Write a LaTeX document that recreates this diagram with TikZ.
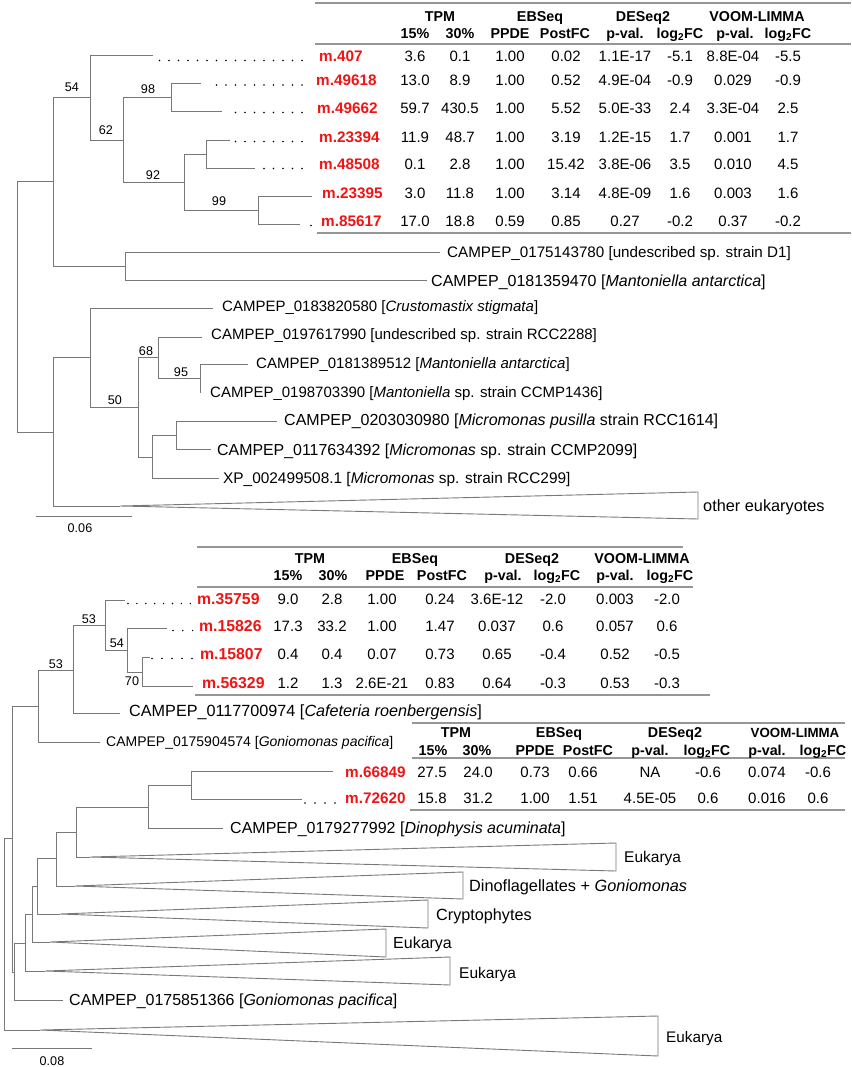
\documentclass[tikz,border=0pt]{standalone}
\usepackage{fontspec}
\setmainfont{Liberation Sans}
\definecolor{tgray}{RGB}{120,120,120}
\definecolor{lgray}{RGB}{150,150,150}
\definecolor{tred}{RGB}{240,20,20}
\newcommand\fA{\fontsize{15}{18}\selectfont}
\newcommand\fB{\fontsize{12.6}{15}\selectfont}
\newcommand\fH{\fontsize{14.3}{17}\selectfont\bfseries}
\newcommand\lgFC{log\textsubscript{2}FC}
\tikzset{
 br/.style={draw=tgray, line width=0.9pt},
 tri/.style={draw=tgray, line width=0.9pt, line join=miter},
 rule/.style={draw=lgray, line width=1.5pt},
 dotl/.style={draw=black, line width=1.6pt, line cap=round, dash pattern=on 0pt off #1},
 dotl/.default=9.5pt,
 lab/.style={anchor=west, inner sep=0pt, text height=10.9pt, text depth=0pt, font=\fontsize{#1}{18}\selectfont},
 lab/.default=15,
 boot/.style={anchor=center, inner sep=0pt, text height=9pt, text depth=0pt, font=\fB},
 gene/.style={anchor=west, inner sep=0pt, text height=11pt, text depth=0pt, font=\fontsize{#1}{18}\selectfont\bfseries, text=tred},
 gene/.default=15.3,
 val/.style={anchor=center, inner sep=0pt, text height=10.7pt, text depth=0pt, font=\fA},
 hd/.style={anchor=center, inner sep=0pt, text height=10.2pt, text depth=0pt, font=\fH},
}
\newcommand\trow[4]{\foreach \v [count=\k] in {#4}{\pgfmathsetmacro\cx{#3[\k-1]}\node[val] (#1-\k) at (\cx,#2) {\v};}}
\newcommand\hrow[4]{\foreach \v [count=\k] in {#4}{\pgfmathsetmacro\cx{#3[\k-1]}\node[hd] (#1-\k) at (\cx,#2) {\v};}}
\def\colAh{{415,460,510,565,625,680,735,788}}
\def\colA{{415,460,510,566,625,680,733,788}}
\def\colBh{{288,333,385,442,503,557,615,670}}
\def\colB{{288,332,382,440,497,553,615,667}}
\def\colCh{{433,477,535,588,650,707,767,823}}
\def\colC{{432,478,535,583,650,708,767,818}}
\begin{document}
\begin{tikzpicture}[x=1pt,y=-1pt]
\useasboundingbox[fill=white] (0,0) rectangle (851,1067);

% ================= UPPER TREE =================
\coordinate (R0) at (17,307);
\coordinate (A) at (53,181);
\coordinate (B) at (53,432);
\coordinate (A1) at (90,97);
\coordinate (A2) at (125,266);
\coordinate (lD1) at (440,252);
\coordinate (lMa) at (427,280);
\coordinate (l407) at (153,55);
\coordinate (A11) at (123,140);
\coordinate (A111) at (171,97);
\coordinate (l49618) at (201,83);
\coordinate (l49662) at (222,111);
\coordinate (A112) at (184,182);
\coordinate (A1121) at (206,154);
\coordinate (l23394) at (230,140);
\coordinate (l48508) at (255,168);
\coordinate (A1122) at (258,210);
\coordinate (l23395) at (312,196);
\coordinate (l85617) at (300,224);
\coordinate (B1) at (90,357);
\coordinate (otherA) at (120,506);
\coordinate (lCr) at (213,308);
\coordinate (B12) at (138,407);
\coordinate (B121) at (158,357);
\coordinate (lR88) at (202,337);
\coordinate (B1212) at (200,378);
\coordinate (l512) at (248,364);
\coordinate (l390) at (200,393);
\coordinate (B122) at (152,457);
\coordinate (B1221) at (176,435);
\coordinate (l980) at (277,421);
\coordinate (l392) at (211,449);
\coordinate (lXP) at (219,478);

\foreach \p/\c in {R0/A,R0/B,A/A1,A/A2,A2/lD1,A2/lMa,A1/l407,A1/A11,A11/A111,A11/A112,
  A111/l49618,A111/l49662,A112/A1121,A112/A1122,A1121/l23394,A1121/l48508,
  A1122/l23395,A1122/l85617,B/B1,B/otherA,B1/lCr,B1/B12,B12/B121,B12/B122,
  B121/lR88,B121/B1212,B1212/l512,B1212/l390,B122/B1221,B122/lXP,B1221/l980,B1221/l392}
  {\draw[br] (\p) |- (\c);}

\draw[tri] (otherA) -- (698,492) -- (698,519) -- cycle;

% bootstrap values
\node[boot] (b54) at (72,87) {54};
\node[boot] (b62) at (106,130) {62};
\node[boot] (b98) at (148,89) {98};
\node[boot] (b92) at (153,175) {92};
\node[boot] (b99) at (219,201) {99};
\node[boot] (b68) at (146,351) {68};
\node[boot] (b95) at (181,372) {95};
\node[boot] (b50) at (115,400) {50};

% leaf labels
\node[lab=15.2] (tD1) at (447,252) {CAMPEP\_0175143780 [undescribed sp. strain D1]};
\node[lab=16] (tMa) at (431,281) {CAMPEP\_0181359470 [\textit{Mantoniella antarctica}]};
\node[lab] (tCr) at (222,306) {CAMPEP\_0183820580 [\textit{Crustomastix stigmata}]};
\node[lab] (tR88) at (211,334) {CAMPEP\_0197617990 [undescribed sp. strain RCC2288]};
\node[lab] (t512) at (256,363) {CAMPEP\_0181389512 [\textit{Mantoniella antarctica}]};
\node[lab] (t390) at (210,392) {CAMPEP\_0198703390 [\textit{Mantoniella} sp. strain CCMP1436]};
\node[lab=16] (t980) at (284,420) {CAMPEP\_0203030980 [\textit{Micromonas pusilla} strain RCC1614]};
\node[lab=15.9] (t392) at (217,450) {CAMPEP\_0117634392 [\textit{Micromonas} sp. strain CCMP2099]};
\node[lab=15.4] (tXP) at (223,478) {XP\_002499508.1 [\textit{Micromonas} sp. strain RCC299]};
\node[lab=16.3] (tOther) at (703,506) {other eukaryotes};

% dotted leaders
\coordinate (d1a) at (159.5,60.5); \coordinate (d1b) at (303,60.5);
\coordinate (d2a) at (216.5,85); \coordinate (d2b) at (303,85);
\coordinate (d3a) at (235.5,112.5); \coordinate (d3b) at (303,112.5);
\coordinate (d4a) at (235.5,141.5); \coordinate (d4b) at (303,141.5);
\coordinate (d5a) at (264,168.5); \coordinate (d5b) at (303,168.5);
\coordinate (d7a) at (311,225.5); \coordinate (d7b) at (311.3,225.5);
\foreach \a/\b in {d1a/d1b,d2a/d2b,d3a/d3b,d4a/d4b,d5a/d5b,d7a/d7b}{\draw[dotl] (\a) -- (\b);}

% scale bar
\coordinate (sb1a) at (36,516); \coordinate (sb1b) at (132,516);
\draw[br] (sb1a) -- (sb1b);
\node[boot] (s006) at (80,528) {0.06};

% ================= UPPER TABLE =================
\draw[rule] (315,3) -- (851,3);
\draw[rule] (315,44) -- (851,44);
\draw[rule] (317,233) -- (851,233);
\node[hd] (ha1) at (440,16) {TPM};
\node[hd] (ha2) at (540,16) {EBSeq};
\node[hd] (ha3) at (643,16) {DESeq2};
\node[hd] (ha4) at (757,16) {VOOM-LIMMA};
\hrow{hA}{33}{\colAh}{15\%,30\%,PPDE,PostFC,p-val.,\lgFC,p-val.,\lgFC}
\node[gene] (g407) at (319,56) {m.407};
\node[gene] (g49618) at (316,80.5) {m.49618};
\node[gene] (g49662) at (317,108) {m.49662};
\node[gene] (g23394) at (319,137) {m.23394};
\node[gene] (g48508) at (319,164) {m.48508};
\node[gene] (g23395) at (322,193) {m.23395};
\node[gene] (g85617) at (321,221) {m.85617};
\trow{a1}{56}{\colA}{3.6,0.1,1.00,0.02,1.1E-17,-5.1,8.8E-04,-5.5}
\trow{a2}{80.5}{\colA}{13.0,8.9,1.00,0.52,4.9E-04,-0.9,0.029,-0.9}
\trow{a3}{108}{\colA}{59.7,430.5,1.00,5.52,5.0E-33,2.4,3.3E-04,2.5}
\trow{a4}{137}{\colA}{11.9,48.7,1.00,3.19,1.2E-15,1.7,0.001,1.7}
\trow{a5}{164}{\colA}{0.1,2.8,1.00,15.42,3.8E-06,3.5,0.010,4.5}
\trow{a6}{193}{\colA}{3.0,11.8,1.00,3.14,4.8E-09,1.6,0.003,1.6}
\trow{a7}{221}{\colA}{17.0,18.8,0.59,0.85,0.27,-0.2,0.37,-0.2}

% ================= LOWER TREE =================
\coordinate (S0) at (4,934);
\coordinate (C) at (12,838);
\coordinate (eukBA) at (40,1030);
\coordinate (D) at (38,706);
\coordinate (E) at (14,972);
\coordinate (D1) at (73,670);
\coordinate (lGo1) at (100,742);
\coordinate (D11) at (105,625);
\coordinate (lCaf) at (120,713);
\coordinate (l35759) at (125,600);
\coordinate (D112) at (127,650);
\coordinate (l15826) at (167,628);
\coordinate (D1122) at (142,672);
\coordinate (l15807) at (150,657);
\coordinate (l56329) at (193,686);
\coordinate (F) at (25,943);
\coordinate (lGo2) at (63,1000);
\coordinate (G) at (32,914);
\coordinate (euk5A) at (45,971);
\coordinate (H) at (37,886);
\coordinate (euk4A) at (50,942);
\coordinate (I) at (56,858);
\coordinate (cryA) at (60,914);
\coordinate (J) at (76,832);
\coordinate (dinoA) at (75,886);
\coordinate (K) at (148,807);
\coordinate (euk1A) at (90,857);
\coordinate (L) at (191,785);
\coordinate (lDph) at (223,828);
\coordinate (l66849) at (333,771);
\coordinate (l72620) at (302,799);

\foreach \p/\c in {S0/C,S0/eukBA,C/D,C/E,D/D1,D/lGo1,D1/D11,D1/lCaf,D11/l35759,D11/D112,
  D112/l15826,D112/D1122,D1122/l15807,D1122/l56329,E/F,E/lGo2,F/G,F/euk5A,G/H,G/euk4A,
  H/I,H/cryA,I/J,I/dinoA,J/K,J/euk1A,K/L,K/lDph,L/l66849,L/l72620}
  {\draw[br] (\p) |- (\c);}

\draw[tri] (euk1A) -- (616,843) -- (616,871) -- cycle;
\draw[tri] (dinoA) -- (463,872) -- (463,899) -- cycle;
\draw[tri] (cryA) -- (428,900) -- (428,928) -- cycle;
\draw[tri] (euk4A) -- (386,929) -- (386,957) -- cycle;
\draw[tri] (euk5A) -- (450,957) -- (450,985) -- cycle;
\draw[tri] (eukBA) -- (658,1016) -- (658,1056) -- cycle;

\node[boot] (c53a) at (56,664) {53};
\node[boot] (c53b) at (89,619) {53};
\node[boot] (c54) at (117,643) {54};
\node[boot] (c70) at (132,681) {70};

\node[lab=16.2] (tCaf) at (129,711) {CAMPEP\_0117700974 [\textit{Cafeteria roenbergensis}]};
\node[lab=14] (tGo1) at (106,741) {CAMPEP\_0175904574 [\textit{Goniomonas pacifica}]};
\node[lab=16] (tDph) at (230,828) {CAMPEP\_0179277992 [\textit{Dinophysis acuminata}]};
\node[lab=16] (tGo2) at (69,1000) {CAMPEP\_0175851366 [\textit{Goniomonas pacifica}]};
\node[lab=15.5] (tE1) at (624,857) {Eukarya};
\node[lab=16.3] (tDino) at (469,886) {Dinoflagellates + \textit{Goniomonas}};
\node[lab=16.2] (tCry) at (436,915) {Cryptophytes};
\node[lab=16] (tE4) at (393,943) {Eukarya};
\node[lab=15.5] (tE5) at (459,973) {Eukarya};
\node[lab=15.3] (tEB) at (666,1037) {Eukarya};

\coordinate (e1a) at (128,603.5); \coordinate (e1b) at (191,603.5);
\coordinate (e2a) at (173,630.5); \coordinate (e2b) at (193,630.5);
\coordinate (e3a) at (152,658.5); \coordinate (e3b) at (193,658.5);
\coordinate (e4a) at (305,803); \coordinate (e4b) at (336,803);
\draw[dotl=8.9pt] (e1a) -- (e1b);
\draw[dotl=9.8pt] (e2a) -- (e2b);
\draw[dotl=10pt] (e3a) -- (e3b);
\draw[dotl=10pt] (e4a) -- (e4b);

\coordinate (sb2a) at (12,1048); \coordinate (sb2b) at (92,1048);
\draw[br] (sb2a) -- (sb2b);
\node[boot] (s008) at (52,1061) {0.08};

% ================= LOWER TABLE 1 =================
\draw[rule] (197,547) -- (683,547);
\draw[rule] (197,587) -- (693,587);
\draw[rule] (195,695) -- (710,695);
\node[hd] (hb1) at (310,558) {TPM};
\node[hd] (hb2) at (415,558) {EBSeq};
\node[hd] (hb3) at (532,558) {DESeq2};
\node[hd] (hb4) at (642,558) {VOOM-LIMMA};
\hrow{hB}{575}{\colBh}{15\%,30\%,PPDE,PostFC,p-val.,\lgFC,p-val.,\lgFC}
\node[gene=15.8] (g35759) at (197,599) {m.35759};
\node[gene=15.8] (g15826) at (199,626) {m.15826};
\node[gene=15.8] (g15807) at (200,654) {m.15807};
\node[gene=15.8] (g56329) at (202,683) {m.56329};
\trow{b1}{599}{\colB}{9.0,2.8,1.00,0.24,3.6E-12,-2.0,0.003,-2.0}
\trow{b2}{626}{\colB}{17.3,33.2,1.00,1.47,0.037,0.6,0.057,0.6}
\trow{b3}{654}{\colB}{0.4,0.4,0.07,0.73,0.65,-0.4,0.52,-0.5}
\trow{b4}{683}{\colB}{1.2,1.3,2.6E-21,0.83,0.64,-0.3,0.53,-0.3}

% ================= LOWER TABLE 2 =================
\draw[rule] (412,723) -- (845,723);
\draw[rule] (412,758) -- (845,758);
\draw[rule] (410,810) -- (845,810);
\node[hd] (hc1) at (456,732) {TPM};
\node[hd] (hc2) at (559,732) {EBSeq};
\node[hd] (hc3) at (675,732) {DESeq2};
\node[hd, font=\fontsize{13.3}{16}\selectfont\bfseries] (hc4) at (795,732) {VOOM-LIMMA};
\hrow{hC}{750}{\colCh}{15\%,30\%,PPDE,PostFC,p-val.,\lgFC,p-val.,\lgFC}
\node[gene] (g66849) at (345,772) {m.66849};
\node[gene] (g72620) at (345,798) {m.72620};
\trow{c1}{772}{\colC}{27.5,24.0,0.73,0.66,NA,-0.6,0.074,-0.6}
\trow{c2}{798}{\colC}{15.8,31.2,1.00,1.51,4.5E-05,0.6,0.016,0.6}
\end{tikzpicture}
\end{document}
